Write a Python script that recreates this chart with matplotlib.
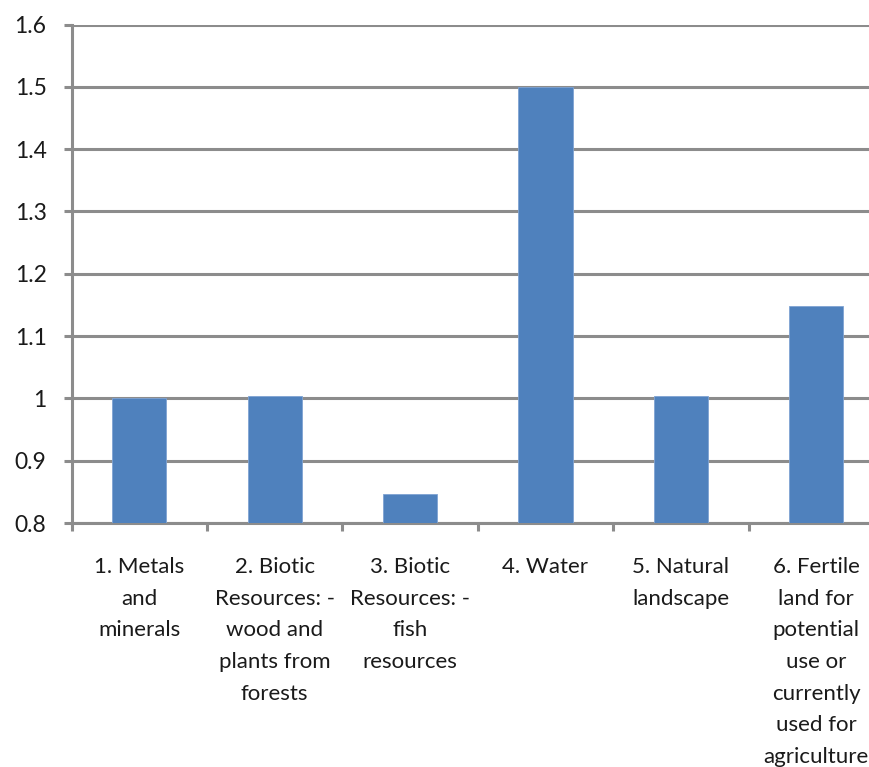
import matplotlib.pyplot as plt
from matplotlib.ticker import FuncFormatter

# values
categories = [
    '1. Metals\nand\nminerals',
    '2. Biotic\nResources: -\nwood and\nplants from\nforests',
    '3. Biotic\nResources: -\nfish\nresources',
    '4. Water',
    '5. Natural\nlandscape',
    '6. Fertile\nland for\npotential\nuse or\ncurrently\nused for\nagriculture',
]
values = [1.0, 1.004, 0.846, 1.5, 1.004, 1.149]
y_ticks = [0.8, 0.9, 1.0, 1.1, 1.2, 1.3, 1.4, 1.5, 1.6]

plt.rcParams['font.family'] = ['Lato', 'DejaVu Sans']
grey = '#8c8c8c'

fig = plt.figure(figsize=(8.69, 7.67), dpi=100)
W, H = 869, 767
left, right, top, bottom = 71.5, 884, 24.5, 523
ax = fig.add_axes([left / W, (H - bottom) / H, (right - left) / W, (bottom - top) / H])

centers = [i + 0.5 for i in range(len(categories))]
ax.bar(centers, [v - 0.8 for v in values], bottom=0.8, width=0.4,
       color='#4f81bd', edgecolor='#7fa3d3', linewidth=0.6, zorder=3)

ax.set_xlim(0, len(categories))
ax.set_ylim(0.8, 1.6)
ax.set_yticks(y_ticks)
ax.yaxis.set_major_formatter(FuncFormatter(lambda v, p: f'{v:g}'))
ax.grid(axis='y', color=grey, linewidth=2.2, zorder=0)

# category boundaries as tick marks, wrapped labels under bar centres
ax.set_xticks(range(len(categories) + 1))
ax.set_xticklabels([])
for x, name in zip(centers, categories):
    ax.annotate(name, xy=(x, 0), xycoords=('data', 'axes fraction'),
                xytext=(0, -24.5), textcoords='offset points',
                ha='center', va='top', fontsize=16, linespacing=1.73,
                color='#1a1a1a', annotation_clip=False)
ax.tick_params(axis='x', which='major', length=6, width=2.2, color=grey)
ax.tick_params(axis='y', length=6, width=2.2, color=grey, pad=12,
               labelsize=16.5, labelcolor='#1a1a1a')

for s in ['top', 'right']:
    ax.spines[s].set_visible(False)
for s in ['left', 'bottom']:
    ax.spines[s].set_color(grey)
    ax.spines[s].set_linewidth(2.2)

fig.savefig('out.png', dpi=100)
